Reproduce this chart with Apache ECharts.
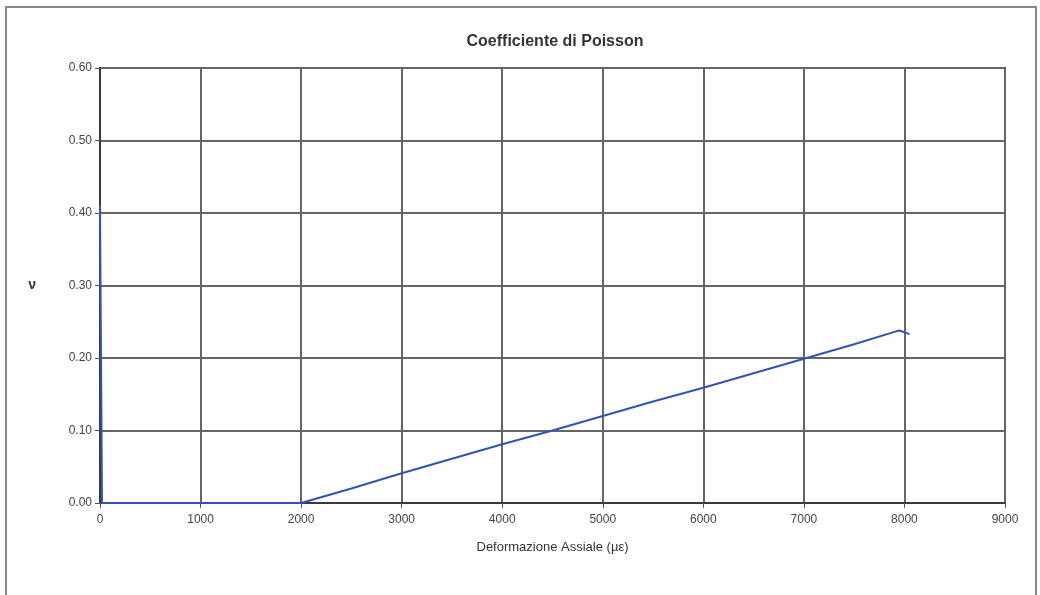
<!DOCTYPE html>
<html><head><meta charset="utf-8">
<script src="https://cdn.jsdelivr.net/npm/echarts@6/dist/echarts.min.js"></script>
<style>html,body{margin:0;padding:0;background:#fff}#c{width:1040px;height:595px}</style>
</head><body><div id="c"></div>
<script>
const titleText = 'Coefficiente di Poisson';
const xName = 'Deformazione Assiale (µε)';
const yName = 'ν';
const strain = [0, 20, 500, 1000, 1500, 2000, 2500, 3000, 3500, 4000, 4500, 5000, 5500, 6000, 6500, 7000, 7500, 7900, 7950, 8050];
const poisson = [0.41, 0.0, 0.0, 0.0, 0.0, 0.0, 0.02, 0.041, 0.061, 0.081, 0.10, 0.12, 0.14, 0.159, 0.179, 0.199, 0.219, 0.236, 0.238, 0.233];

const chart = echarts.init(document.getElementById('c'));
chart.setOption({
  animation: false,
  backgroundColor: '#fff',
  title: { text: titleText, left: 550, top: 29, textAlign: 'center',
    textStyle: { fontFamily: 'Liberation Sans, Arial', fontSize: 16, fontWeight: 'bold', color: '#333' } },
  graphic: [{ type: 'rect', shape: { x: 6, y: 7, width: 1030, height: 600 }, style: { fill: 'none', stroke: '#888', lineWidth: 2 }, silent: true }],
  grid: { left: 100, right: 35, top: 68, bottom: 92, show: true, borderColor: '#3a3a3a', borderWidth: 2 },
  xAxis: { type: 'value', min: 0, max: 9000, interval: 1000,
    name: xName, nameLocation: 'middle', nameGap: 38,
    nameTextStyle: { fontFamily: 'Liberation Sans, Arial', fontSize: 13, color: '#333' },
    axisLine: { show: true, lineStyle: { color: '#3a3a3a', width: 2 } },
    axisTick: { show: true, length: 5, lineStyle: { color: '#555' } },
    axisLabel: { fontFamily: 'Liberation Sans, Arial', fontSize: 12, color: '#444', margin: 11,
      formatter: v => String(v) },
    splitLine: { show: true, lineStyle: { color: '#666', width: 2 } } },
  yAxis: { type: 'value', min: 0, max: 0.6, interval: 0.1,
    name: yName, nameLocation: 'middle', nameGap: 64, nameRotate: 0,
    nameTextStyle: { fontFamily: 'Liberation Sans, Arial', fontSize: 14, fontWeight: 'bold', color: '#333' },
    axisLine: { show: true, lineStyle: { color: '#3a3a3a', width: 2 } },
    axisTick: { show: true, length: 5, lineStyle: { color: '#555' } },
    axisLabel: { fontFamily: 'Liberation Sans, Arial', fontSize: 12, color: '#444', margin: 8,
      formatter: v => v.toFixed(2) },
    splitLine: { show: true, lineStyle: { color: '#666', width: 2 } } },
  series: [{ type: 'line', data: strain.map((x, i) => [x, poisson[i]]),
    showSymbol: false, lineStyle: { color: '#2f55b0', width: 2 }, itemStyle: { color: '#2f55b0' } }]
});
</script></body></html>
